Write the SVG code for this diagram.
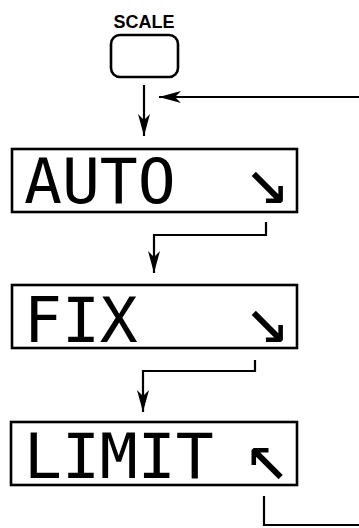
<svg xmlns="http://www.w3.org/2000/svg" width="359" height="528" viewBox="0 0 359 528">
<style>
.ln{fill:none;stroke:#000;stroke-width:2.2}
.box{fill:#fff;stroke:#000;stroke-width:2.6}
.lcd{font-family:"DejaVu Sans Mono","Liberation Mono",monospace;font-size:63px;fill:#000}
.arr{font-family:"DejaVu Sans Mono","DejaVu Sans",monospace;font-size:74px;fill:#000}
.lbl{font-family:"Liberation Sans",Arial,sans-serif;font-weight:bold;font-size:18px;fill:#000}
</style>
<defs>
<marker id="ah" markerUnits="userSpaceOnUse" markerWidth="26" markerHeight="16" viewBox="-24 -8 26 16" refX="0" refY="0" orient="auto">
<path d="M0,0 L-22,-6 L-16,0 L-22,6 Z" fill="#000"/>
</marker>
</defs>
<g id="scale-button">
<text class="lbl" x="144" y="28" text-anchor="middle">SCALE</text>
<rect x="111" y="35" width="67" height="42" rx="9" fill="#fff" stroke="#000" stroke-width="2.6"/>
</g>
<g id="auto">
<rect class="box" x="12" y="149" width="285" height="63"/>
<text class="lcd" x="24" y="203">AUTO</text>
<text class="arr" x="245" y="203">↘</text>
</g>
<g id="fix">
<rect class="box" x="12" y="285" width="285" height="63"/>
<text class="lcd" x="24" y="342">FIX</text>
<text class="arr" x="245" y="342">↘</text>
</g>
<g id="limit">
<rect class="box" x="11" y="422" width="286" height="63"/>
<text class="lcd" x="24" y="478">LIMIT</text>
<text class="arr" x="245" y="479">↖</text>
</g>
<g id="connectors">
<path class="ln" d="M144,85 V136" marker-end="url(#ah)"/>
<path class="ln" d="M359,97 H159" marker-end="url(#ah)"/>
<path class="ln" d="M266,222 V235 H154 V273" marker-end="url(#ah)"/>
<path class="ln" d="M255,360 V371 H143 V412" marker-end="url(#ah)"/>
<path class="ln" d="M264,496 V525 H359"/>
</g>
</svg>
